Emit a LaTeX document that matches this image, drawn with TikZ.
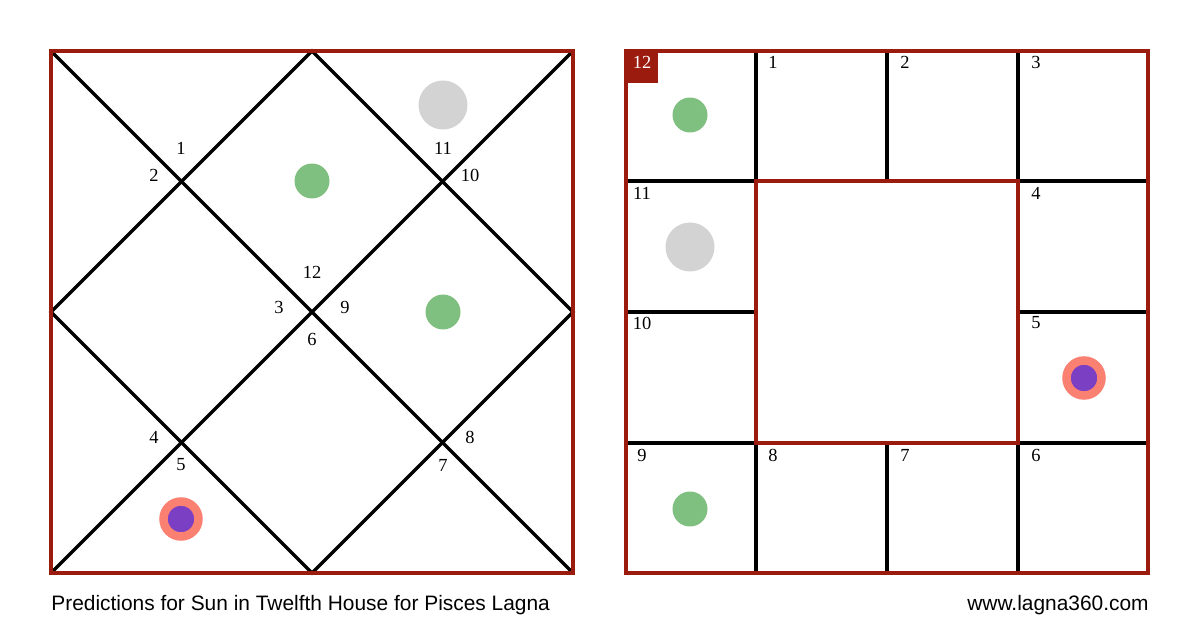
\documentclass[tikz,border=0pt]{standalone}
\usepackage{fontspec}
\setmainfont{Liberation Serif}
\newfontfamily\capfont{Liberation Sans}
\definecolor{bred}{HTML}{9B1B0F}
\definecolor{pgreen}{HTML}{7FBF7F}
\definecolor{pgrey}{HTML}{D3D3D3}
\definecolor{psalmon}{HTML}{FA8072}
\definecolor{ppurple}{HTML}{7B3FC4}
\begin{document}
\begin{tikzpicture}[x=0.02cm,y=-0.02cm,
  blk/.style={line width=2pt,black},
  redl/.style={line width=2pt,bred},
  num/.style={font=\fontsize{10.5}{12}\selectfont,inner sep=0pt},
  captext/.style={font=\capfont\fontsize{11.9}{13}\selectfont,inner sep=0pt},
  gdot/.style={circle,fill=pgreen,minimum size=0.7cm,inner sep=0pt},
  grdot/.style={circle,fill=pgrey,minimum size=0.98cm,inner sep=0pt},
  sun/.style={circle,fill=ppurple,draw=psalmon,line width=0.17cm,minimum size=0.7cm,inner sep=0pt}]
\useasboundingbox[fill=white] (0,0) rectangle (1200,628);
% left chart
\coordinate (A) at (51,51); \coordinate (B) at (573,51);
\coordinate (C) at (573,573); \coordinate (D) at (51,573);
\coordinate (T) at (312,51); \coordinate (R) at (573,312);
\coordinate (Bm) at (312,573); \coordinate (L) at (51,312);
\draw[blk] (A) -- (C); \draw[blk] (B) -- (D);
\draw[blk] (T) -- (R) -- (Bm) -- (L) -- cycle;
\draw[redl] (A) rectangle (C);
\foreach \t/\x/\y in {1/181/148,2/154/175,11/443/148,10/470/175,12/312/272,3/279/307,9/345/307,6/312/339,4/154/437,5/181/465,8/470/437,7/443/465}
  \node[num] (l\t) at (\x,\y) {\t};
\node[grdot] (lg) at (443,105) {};
\node[gdot] (lg1) at (312,181) {};
\node[gdot] (lg2) at (443,312) {};
\node[sun] (ls) at (181,519) {};
% right chart
\draw[blk] (756,51) -- (756,181) (887,51) -- (887,181) (1018,51) -- (1018,181);
\draw[blk] (756,443) -- (756,573) (887,443) -- (887,573) (1018,443) -- (1018,573);
\draw[blk] (626,181) -- (756,181) (626,312) -- (756,312) (626,443) -- (756,443);
\draw[blk] (1018,181) -- (1148,181) (1018,312) -- (1148,312) (1018,443) -- (1148,443);
\draw[redl] (756,181) rectangle (1018,443);
\draw[redl] (626,51) rectangle (1148,573);
\fill[bred] (626,51) rectangle (658,83);
\node[num,text=white] (r12) at (642,62) {12};
\foreach \t/\x in {1/773,2/905,3/1036}
  \node[num] (r\t) at (\x,62) {\t};
\foreach \t/\x/\y in {11/642/193,10/642/323,4/1036/193,5/1036/323,9/642/455,8/773/455,7/905/455,6/1036/455}
  \node[num] (r\t) at (\x,\y) {\t};
\node[gdot] (rg1) at (690,115) {};
\node[grdot] (rgr) at (690,247) {};
\node[gdot] (rg2) at (690,509) {};
\node[sun] (rs) at (1084,378) {};
% captions
\node[captext,anchor=west] (c1) at (51,605) {Predictions for Sun in Twelfth House for Pisces Lagna};
\node[captext,anchor=east] (c2) at (1149,605) {www.lagna360.com};
\end{tikzpicture}
\end{document}
